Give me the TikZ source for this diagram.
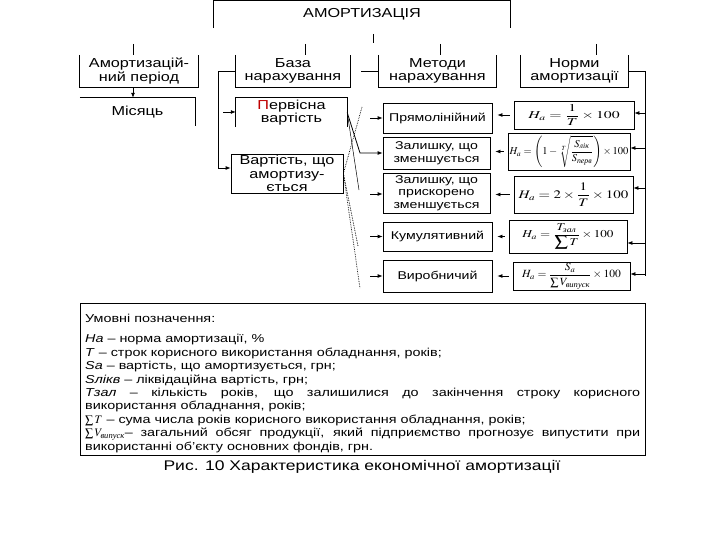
\documentclass[tikz,border=0pt]{standalone}
\usepackage{amsmath}
\usepackage{mathptmx}
\usepackage[no-math]{fontspec}
\setmainfont{Liberation Sans}[FakeStretch=1.25]
\newfontfamily\serifcyr{Liberation Serif}
\usepackage{graphicx}
\usetikzlibrary{arrows.meta}
\newcommand{\cyrsub}[1]{\text{\serifcyr\itshape #1}}
\newcommand{\fx}[2]{\scalebox{#1}[1]{$\displaystyle #2$}}
\begin{document}
\begin{tikzpicture}[x=1pt,y=-1pt,
  every node/.style={inner sep=0pt, align=center},
  ln/.style={line width=0.8pt},
  arr/.style={ln, -{Latex[length=5pt,width=4pt]}},
  dot/.style={line width=0.7pt, densely dotted},
  big/.style={font=\fontsize{13}{13.5}\selectfont},
  mid/.style={font=\fontsize{11.3}{12.5}\selectfont},
  fbox/.style={draw, ln},
  sz/.style 2 args={minimum width=#1pt, minimum height=#2pt}]
\fill[white] (0,0) rectangle (720,540);
\useasboundingbox (0,0) rectangle (720,540);

% top
\node[big, sz={296}{27}] (amort) at (362,14.5) {АМОРТИЗАЦІЯ};
\draw[ln] (amort.south west) -- (amort.north west) -- (amort.north east) -- (amort.south east);
\coordinate (t0) at (373,34);
\coordinate (t1) at (373,43);
\draw[ln] (t0) -- (t1);

% second row
\node[big, sz={118}{32}] (per) at (139,71) {Амортизацій-\\ний період};
\node[big, sz={114}{32}] (baza) at (293,71) {База\\нарахування};
\node[big, sz={117}{32}] (met) at (437.5,71) {Методи\\нарахування};
\node[big, sz={107}{32}] (norm) at (574.5,71) {Норми\\амортизації};
\foreach \n in {per,baza,met,norm}
  \draw[ln] (\n.north west) -- (\n.south west) -- (\n.south east) -- (\n.north east);
\coordinate (s-per) at (133,44);
\coordinate (s-baza) at (305,44);
\coordinate (s-met) at (440,44);
\coordinate (s-norm) at (596,44);
\foreach \n in {per,baza,met,norm}
  \draw[ln] (s-\n) -- (s-\n |- \n.north);

% period -> month
\node[big, sz={115}{28}] (mis) at (137.5,112) {Місяць};
\draw[ln] (mis.north west) -- (mis.north east) -- (mis.south east);
\draw[arr] (per.south -| s-per) -- (mis.north -| s-per);

% base
\node[big, sz={111}{29}] (perv) at (291.5,112.5) {{\color{red!75!black}П}ервісна\\вартість};
\draw[ln] (perv.south west) -- (perv.north west) -- (perv.north east) -- (perv.south east);
\node[big, fbox, sz={112}{39}] (vart) at (287,173.5) {Вартість, що\\амортизу-\\ється};
\coordinate (vb) at (218,168);
\draw[arr] (baza.west) -| (vb) -- (vb -| vart.west);
\coordinate (pa) at (223,112);
\draw[arr] (pa) -- (pa -| perv.west);

% methods
\coordinate (mw) at (361,71);
\draw[ln] (met.west) -- (mw);
\node[mid, fbox, sz={109}{30}] (m1) at (437.5,118) {Прямолінійний};
\node[mid, fbox, sz={107}{32}] (m2) at (436.5,153) {Залишку, що\\зменшується};
\node[mid, fbox, sz={107}{40}] (m3) at (436.5,193) {Залишку, що\\прискорено\\зменшується};
\node[mid, fbox, sz={109}{29}] (m4) at (437.5,236.5) {Кумулятивний};
\node[mid, fbox, sz={109}{32}] (m5) at (437.5,276) {Виробничий};

% formulas
\node[fbox, sz={120}{28}, font=\fontsize{10.5}{12}\selectfont] (f1) at (574,115) {\fx{1.5}{H_a=\frac{1}{T}\times 100}};
\node[fbox, sz={122}{37}, font=\fontsize{10.5}{12}\selectfont] (f2) at (569,151.5) {\fx{1}{H_a=\left(1-\sqrt[T]{\frac{S_{\cyrsub{лік}}}{S_{\cyrsub{перв}}}}\right)\times 100}};
\node[fbox, sz={119}{37}, font=\fontsize{11.5}{13}\selectfont] (f3) at (573.5,194.5) {\fx{1.3}{H_a=2\times\frac{1}{T}\times 100}};
\node[fbox, sz={118}{33}, font=\fontsize{10.5}{12}\selectfont] (f4) at (568,236.5) {\fx{1.25}{H_a=\frac{T_{\cyrsub{зал}}}{\displaystyle\sum T}\times 100}};
\node[fbox, sz={117}{28}, font=\fontsize{11}{13}\selectfont] (f5) at (571.5,276) {\fx{1.05}{H_a=\frac{S_a}{\sum V_{\cyrsub{випуск}}}\times 100}};

\foreach \i in {1,...,5}
  \draw[arr, shorten <=4pt, shorten >=5pt] (f\i.west) -- (f\i.west -| m\i.east);

% norms bus
\coordinate (rt) at (645,71);
\coordinate (rb) at (645,276);
\draw[ln] (norm.east) -- (rt) -- (rb);
\coordinate (r1) at (645,113);
\coordinate (r2) at (645,148);
\coordinate (r3) at (645,188);
\coordinate (r4) at (645,243);
\coordinate (r5) at (645,274);
\foreach \i in {1,...,5}
  \draw[arr] (r\i) -- (r\i -| f\i.east);

% arrows into methods
\coordinate (a1) at (370,118);
\coordinate (a3) at (370,194);
\coordinate (a4) at (370,236.5);
\coordinate (a5) at (370,276);
\foreach \i in {1,3,4,5}
  \draw[arr] (a\i) -- (a\i -| m\i.west);
\coordinate (k2) at (360,153);
\draw[arr] (perv.east) -- (k2) -- (m2.west);
\coordinate (k3) at (359,190);
\draw[line width=0.5pt] (perv.east) -- (k3);
\coordinate (k1) at (362,107);
\coordinate (k4) at (358,246);
\coordinate (k5) at (360,288);
\draw[dot] (k1) -- (vart.east);
\draw[dot] (vart.east) -- (k4);
\draw[dot] (vart.east) -- (k5);

% legend
\node[draw, ln, sz={565}{152}] (leg) at (362.5,379) {};
\node[anchor=north west, text width=555pt, align=justify, font=\fontsize{11.5}{13.4}\selectfont] (legtxt) at (85,314) {%
Умовні позначення:\\[7pt]
\textit{На} – норма амортизації, \%\\
\textit{Т} – строк корисного використання обладнання, років;\\
\textit{Sa} – вартість, що амортизується, грн;\\
\textit{Sлікв} – ліквідаційна вартість, грн;\\
\textit{Тзал} – кількість років, що залишилися до закінчення строку корисного\linebreak використання обладнання, років;\\
$\sum T$ – сума числа років корисного використання обладнання, років;\\
$\sum V_{\cyrsub{випуск}}$– загальний обсяг продукції, який підприємство прогнозує випустити при\linebreak використанні об'єкту основних фондів, грн.};

\node[font=\fontsize{14}{16}\selectfont] (cap) at (362,467) {Рис. 10 Характеристика економічної амортизації};
\end{tikzpicture}
\end{document}
